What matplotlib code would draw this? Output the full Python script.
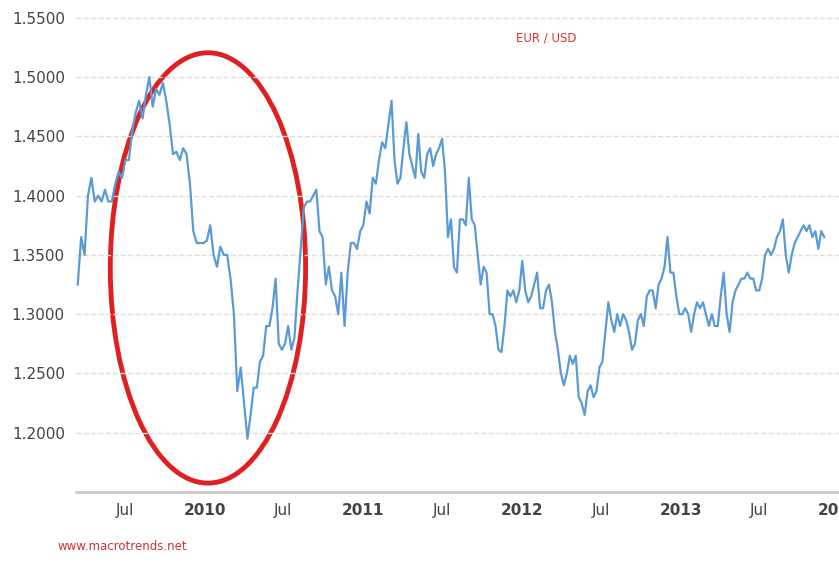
import matplotlib
matplotlib.use('Agg')
import matplotlib.pyplot as plt
import matplotlib.dates as mdates
from matplotlib.patches import Ellipse
import pandas as pd
import numpy as np

# approximate weekly EUR/USD closes, spring 2009 - late 2013
eurusd = [
    1.325, 1.365, 1.35, 1.40, 1.415, 1.395, 1.40, 1.395, 1.405, 1.395, 1.395, 1.41, 1.42, 1.415,
    1.43, 1.43, 1.455, 1.47, 1.48, 1.465, 1.485, 1.50, 1.475, 1.49, 1.485, 1.495, 1.48, 1.46,
    1.435, 1.437, 1.43, 1.44, 1.435, 1.41, 1.37, 1.36, 1.36, 1.36, 1.362, 1.375, 1.35, 1.34,
    1.357, 1.35, 1.35, 1.33, 1.30, 1.235, 1.255, 1.225, 1.195, 1.215, 1.238, 1.238, 1.26, 1.265,
    1.29, 1.29, 1.305, 1.33, 1.275, 1.27, 1.275, 1.29, 1.27, 1.28, 1.32, 1.355, 1.39, 1.395,
    1.395, 1.40, 1.405, 1.37, 1.365, 1.325, 1.34, 1.32, 1.315, 1.30, 1.335, 1.29, 1.335, 1.36,
    1.36, 1.355, 1.37, 1.375, 1.395, 1.385, 1.415, 1.41, 1.43, 1.445, 1.44, 1.46, 1.48, 1.43,
    1.41, 1.415, 1.44, 1.462, 1.435, 1.425, 1.415, 1.452, 1.42, 1.415, 1.435, 1.44, 1.425, 1.435,
    1.44, 1.448, 1.42, 1.365, 1.38, 1.34, 1.335, 1.38, 1.38, 1.375, 1.415, 1.38, 1.375, 1.35,
    1.325, 1.34, 1.335, 1.30, 1.30, 1.29, 1.27, 1.268, 1.29, 1.32, 1.315, 1.32, 1.31, 1.32,
    1.345, 1.32, 1.31, 1.315, 1.325, 1.335, 1.305, 1.305, 1.32, 1.325, 1.31, 1.285, 1.27, 1.25,
    1.24, 1.25, 1.265, 1.258, 1.265, 1.23, 1.225, 1.215, 1.235, 1.24, 1.23, 1.235, 1.255, 1.26,
    1.285, 1.31, 1.295, 1.285, 1.30, 1.29, 1.30, 1.295, 1.285, 1.27, 1.275, 1.295, 1.30, 1.29,
    1.315, 1.32, 1.32, 1.305, 1.325, 1.33, 1.34, 1.365, 1.335, 1.335, 1.315, 1.30, 1.30, 1.305,
    1.30, 1.285, 1.30, 1.31, 1.305, 1.31, 1.30, 1.29, 1.30, 1.29, 1.29, 1.315, 1.335, 1.30,
    1.285, 1.31, 1.32, 1.325, 1.33, 1.33, 1.335, 1.33, 1.33, 1.32, 1.32, 1.33, 1.35, 1.355,
    1.35, 1.355, 1.365, 1.37, 1.38, 1.35, 1.335, 1.35, 1.36, 1.365, 1.37, 1.375, 1.37, 1.375,
    1.365, 1.37, 1.355, 1.37, 1.365,
]
# dates of turning points (start, 2009 high, 2010 low, 2011 high, 2012 low, end)
anchor_idx = [0, 21, 50, 96, 161, len(eurusd) - 1]
anchor_dates = ['2009-03-14', '2009-08-26', '2010-04-09', '2011-03-07', '2012-05-25', '2013-11-28']
dates = mdates.num2date(np.interp(np.arange(len(eurusd)), anchor_idx,
                                  mdates.date2num(pd.to_datetime(anchor_dates))))

yticks = [1.20, 1.25, 1.30, 1.35, 1.40, 1.45, 1.50, 1.55]
xticks = ['2009-07-01', '2010-01-01', '2010-07-01', '2011-01-01', '2011-07-01',
          '2012-01-01', '2012-07-01', '2013-01-01', '2013-07-01', '2014-01-01']
xlabels = ['Jul', '2010', 'Jul', '2011', 'Jul', '2012', 'Jul', '2013', 'Jul', '2014']

fig = plt.figure(figsize=(8.39, 5.81), dpi=100)
ax = fig.add_axes([76 / 839, 89 / 581, 763 / 839, 492 / 581])

ax.plot(dates, eurusd, color='#5b9bd5', lw=1.6)

ax.set_xlim(pd.Timestamp('2009-03-10'), pd.Timestamp('2013-11-29'))
ax.set_ylim(1.15, 1.565)
ax.set_yticks(yticks)
ax.set_yticklabels([f'{v:.4f}' for v in yticks])
ax.set_xticks([pd.Timestamp(t) for t in xticks])
ax.set_xticklabels(xlabels)
for lbl, txt in zip(ax.get_xticklabels(), xlabels):
    if txt[0].isdigit():
        lbl.set_fontweight('bold')

ax.tick_params(axis='both', length=0, labelsize=11, colors='#444444')
ax.tick_params(axis='y', pad=8)
ax.tick_params(axis='x', pad=8)
ax.grid(axis='y', color='#dddddd', ls='--', lw=1)
for s in ['top', 'right', 'left']:
    ax.spines[s].set_visible(False)
ax.spines['bottom'].set_color('#cccccc')
ax.spines['bottom'].set_linewidth(2)

# red highlight circle
c = mdates.date2num(pd.Timestamp('2010-01-08'))
ax.add_patch(Ellipse((c, 1.339), 450, 0.363, fill=False, ec='#e02020', lw=3.5, clip_on=False))

ax.text(0.577, 0.915, 'EUR / USD', transform=ax.transAxes, color='#e03030', fontsize=8.5)
fig.text(58 / 839, 1 - 546 / 581, 'www.macrotrends.net', color='#cc3333', fontsize=8.5, va='center')

fig.savefig('out.png', dpi=100)
